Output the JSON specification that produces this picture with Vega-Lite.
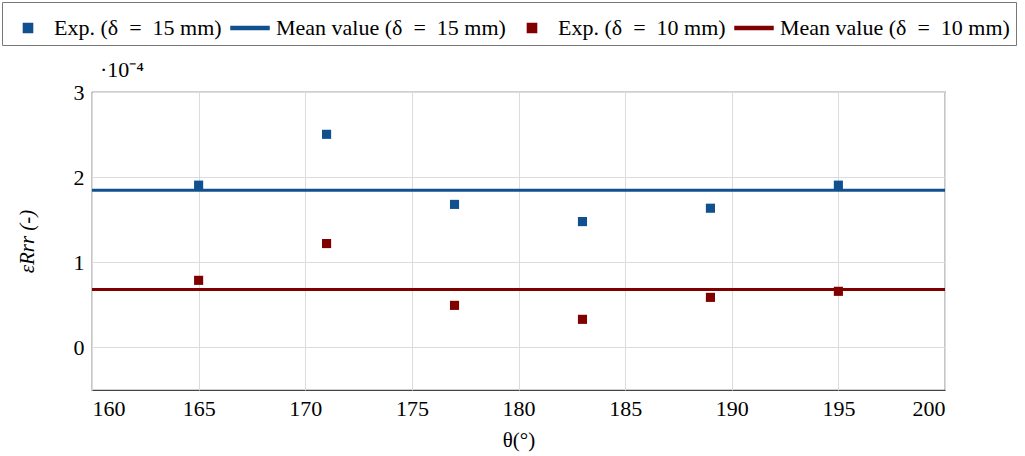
{
  "$schema": "https://vega.github.io/schema/vega-lite/v6.json",
  "autosize": {"type": "none"},
  "padding": {"left": 92, "top": 92, "right": 80, "bottom": 66},
  "width": 853,
  "height": 298,
  "background": "white",
  "title": {"text": "·10⁻⁴", "anchor": "start", "frame": "group", "font": "Liberation Serif", "fontSize": 22, "fontWeight": "normal", "color": "black", "offset": 0, "dx": 8, "dy": 80},
  "config": {
    "font": "Liberation Serif",
    "view": {"stroke": "#444", "strokeWidth": 1.2},
    "axis": {"labelFont": "Liberation Serif", "labelFontSize": 22, "labelColor": "black", "titleFont": "Liberation Serif", "titleFontSize": 21, "titleFontWeight": "normal", "titleColor": "black", "gridColor": "#dcdcdc", "gridWidth": 1, "domain": false, "ticks": false, "labelPadding": 8}
  },
  "datasets": {
    "points": [
      {"theta": 165, "eps": 0.0001906, "series": "Exp. (δ\u2002=\u200215 mm)"},
      {"theta": 171, "eps": 0.0002503, "series": "Exp. (δ\u2002=\u200215 mm)"},
      {"theta": 177, "eps": 0.0001680, "series": "Exp. (δ\u2002=\u200215 mm)"},
      {"theta": 183, "eps": 0.0001478, "series": "Exp. (δ\u2002=\u200215 mm)"},
      {"theta": 189, "eps": 0.0001635, "series": "Exp. (δ\u2002=\u200215 mm)"},
      {"theta": 195, "eps": 0.0001906, "series": "Exp. (δ\u2002=\u200215 mm)"},
      {"theta": 165, "eps": 0.0000788, "series": "Exp. (δ\u2002=\u200210 mm)"},
      {"theta": 171, "eps": 0.0001220, "series": "Exp. (δ\u2002=\u200210 mm)"},
      {"theta": 177, "eps": 0.0000494, "series": "Exp. (δ\u2002=\u200210 mm)"},
      {"theta": 183, "eps": 0.0000330, "series": "Exp. (δ\u2002=\u200210 mm)"},
      {"theta": 189, "eps": 0.0000588, "series": "Exp. (δ\u2002=\u200210 mm)"},
      {"theta": 195, "eps": 0.0000659, "series": "Exp. (δ\u2002=\u200210 mm)"}
    ],
    "means": [
      {"eps": 0.0001845, "series": "Mean value (δ\u2002=\u200215 mm)"},
      {"eps": 0.0000680, "series": "Mean value (δ\u2002=\u200210 mm)"}
    ]
  },
  "encoding": {
    "y": {"field": "eps", "type": "quantitative", "scale": {"domain": [-0.00005, 0.0003], "nice": false}, "axis": {"values": [0, 0.0001, 0.0002, 0.0003], "labelExpr": "format(datum.value*10000, '.0f')", "title": "εRrr (-)", "titleFontStyle": "italic", "titlePadding": 36}},
    "color": {"field": "series", "type": "nominal", "scale": {"domain": ["Exp. (δ\u2002=\u200215 mm)", "Mean value (δ\u2002=\u200215 mm)", "Exp. (δ\u2002=\u200210 mm)", "Mean value (δ\u2002=\u200210 mm)"], "range": ["#11508e", "#11508e", "#800000", "#800000"]},
      "legend": {"orient": "none", "legendX": -90, "legendY": -90, "direction": "horizontal", "columns": 4, "title": null, "labelFont": "Liberation Serif", "labelFontSize": 22, "labelColor": "black", "strokeColor": "#777", "padding": 6, "columnPadding": 6, "labelOffset": 6, "labelLimit": 400, "symbolSize": 1444, "symbolOpacity": 1}}
  },
  "layer": [
    {
      "data": {"name": "points"},
      "mark": {"type": "point", "filled": true, "size": 1444, "opacity": 1},
      "encoding": {
        "x": {"field": "theta", "type": "quantitative", "scale": {"domain": [160, 200], "nice": false}, "axis": {"orient": "bottom", "values": [160, 165, 170, 175, 180, 185, 190, 195, 200], "title": "θ(°)", "titlePadding": 10}},
        "shape": {"field": "series", "type": "nominal", "scale": {"domain": ["Exp. (δ\u2002=\u200215 mm)", "Mean value (δ\u2002=\u200215 mm)", "Exp. (δ\u2002=\u200210 mm)", "Mean value (δ\u2002=\u200210 mm)"], "range": ["M-0.24,-0.24H0.24V0.24H-0.24Z", "M-1,-0.075H1V0.075H-1Z", "M-0.24,-0.24H0.24V0.24H-0.24Z", "M-1,-0.075H1V0.075H-1Z"]}, "legend": {"title": null}}
      }
    },
    {
      "data": {"name": "means"},
      "mark": {"type": "rule", "strokeWidth": 3},
      "encoding": {}
    }
  ]
}
